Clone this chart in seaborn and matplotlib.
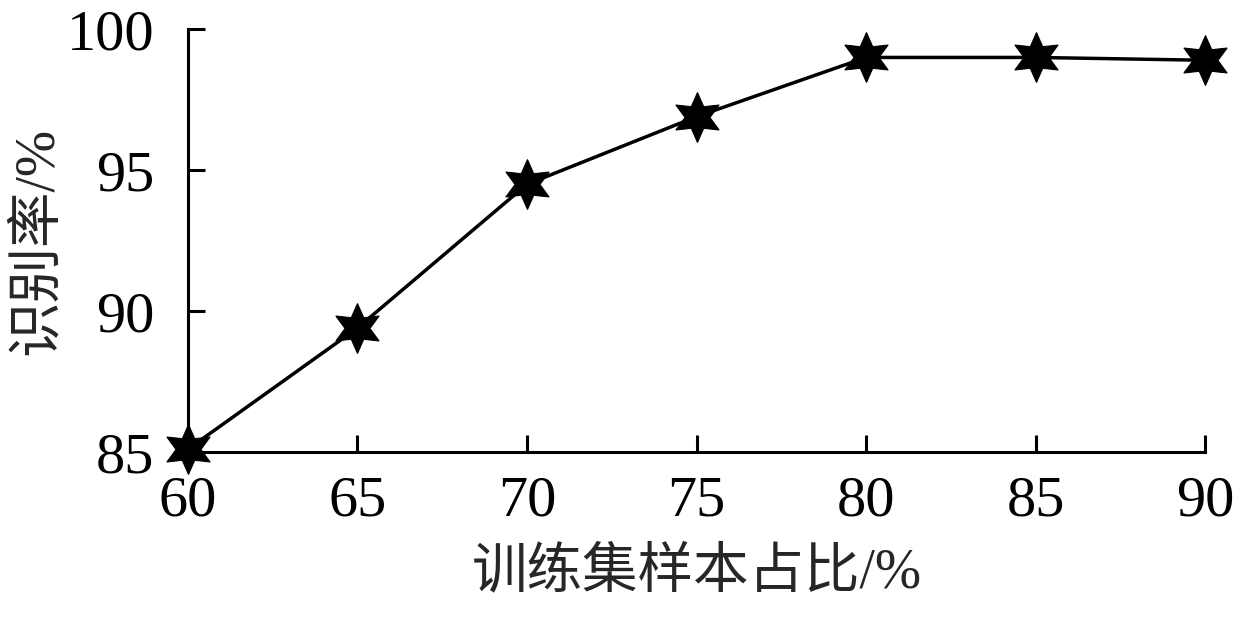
import numpy as np
import pandas as pd
import matplotlib
matplotlib.use("Agg")
import matplotlib.pyplot as plt
import seaborn as sns

train_ratio = [60, 65, 70, 75, 80, 85, 90]
recog_rate = [85.1, 89.4, 94.5, 96.9, 99.0, 99.0, 98.9]
x_ticks = [60, 65, 70, 75, 80, 85, 90]
y_ticks = [85, 90, 95, 100]

df = pd.DataFrame({"ratio": train_ratio, "rate": recog_rate})

sns.set_style("ticks")
plt.rcParams['font.family'] = ['Liberation Serif', 'Noto Sans CJK SC']
plt.rcParams['axes.linewidth'] = 2.2

fig, ax = plt.subplots(figsize=(12.35, 6.22), dpi=100)
fig.subplots_adjust(left=0.152, right=0.976, top=0.953, bottom=0.273)

sns.lineplot(data=df, x="ratio", y="rate", ax=ax, color="black", linewidth=2.5,
             marker=(6, 1, 0), markersize=36, markeredgecolor="black",
             markerfacecolor="black", clip_on=False, zorder=3)

ax.set_xlim(60, 90)
ax.set_ylim(85, 100)
ax.set_xticks(x_ticks)
ax.set_yticks(y_ticks)
ax.tick_params(direction="in", length=12, width=2.2, labelsize=42, colors="black")
ax.tick_params(axis="x", pad=17)
ax.tick_params(axis="y", pad=24)
for s in ["top", "right"]:
    ax.spines[s].set_visible(False)
for s in ["left", "bottom"]:
    ax.spines[s].set_color("black")

ax.set_xlabel("训练集样本占比/%", fontsize=40, labelpad=14)
ax.set_ylabel("识别率/%", fontsize=40, labelpad=2)

fig.savefig("out.png", dpi=100, facecolor="white")
